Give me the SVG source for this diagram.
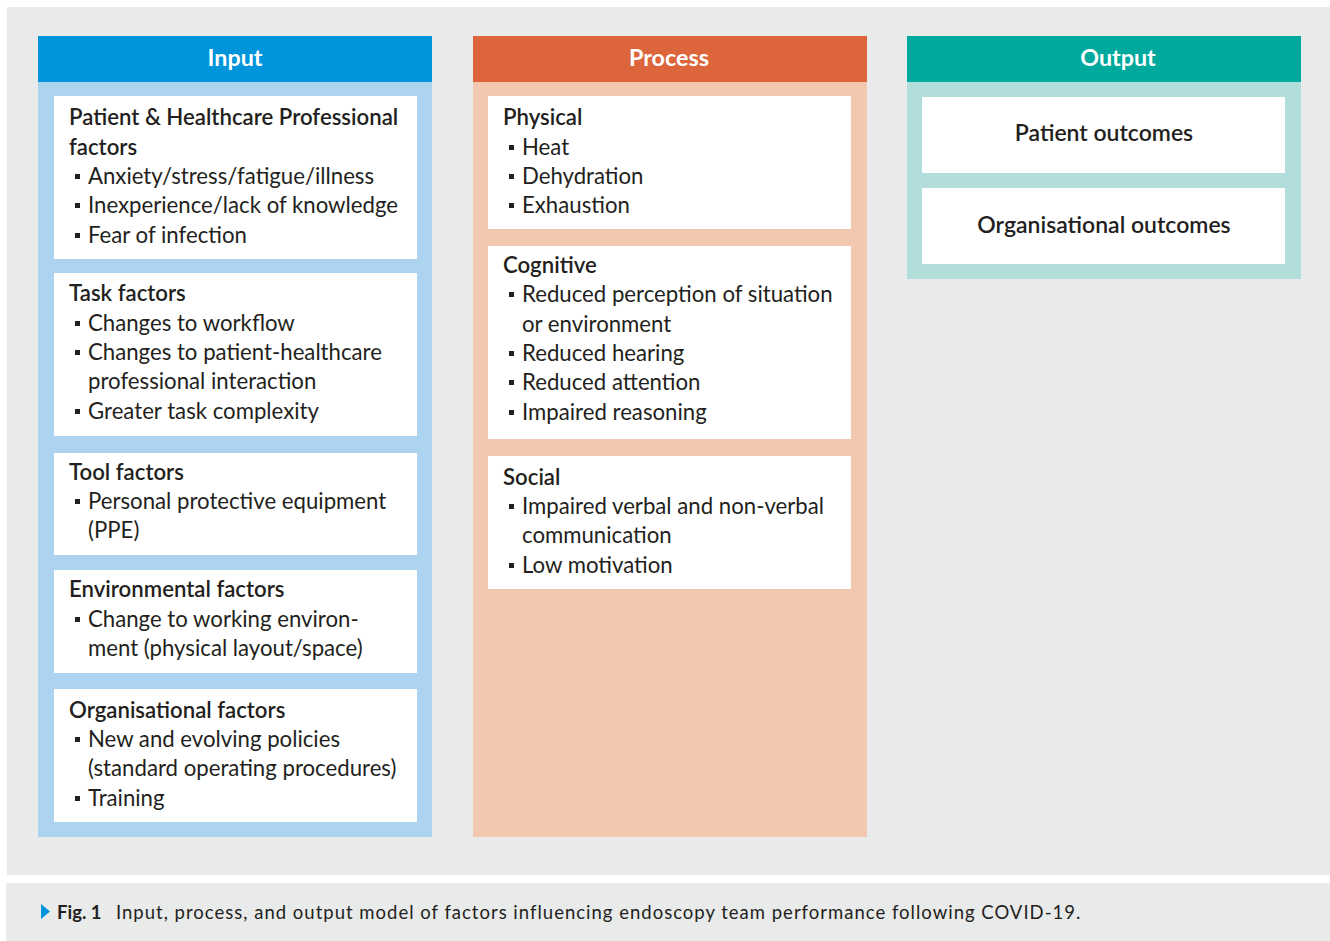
<svg xmlns="http://www.w3.org/2000/svg" width="1330" height="941" viewBox="0 0 1330 941">
<defs>
<style>
text{font-family:Lato,"Noto Sans","Liberation Sans",sans-serif;fill:#231f20;font-size:22.2px}
.hd{font-weight:700;fill:#ffffff;font-size:23.3px;text-anchor:middle}
.h{font-weight:600}
.c{text-anchor:middle;font-weight:600;font-size:23px}
.box{fill:#ffffff}
.cap{font-size:18.5px;letter-spacing:1px}
</style>
<g id="bul"><rect x="-6" y="-10" width="5" height="5" fill="#231f20"/></g>
</defs>
<rect x="0" y="0" width="1330" height="941" fill="#ffffff"/>
<rect x="7" y="7" width="1323" height="868" fill="#e9eaea"/>
<rect x="6" y="883" width="1324" height="58" fill="#e9eaea"/>

<g id="input">
<rect x="38" y="36" width="394" height="801" fill="#acd3ef"/>
<rect x="38" y="36" width="394" height="46" fill="#0095da"/>
<text class="hd" x="235" y="66">Input</text>
</g>
<g id="input-patient">
<rect class="box" x="54" y="96" width="363" height="163"/>
<text class="h" x="69" y="125">Patient &amp; Healthcare Professional</text>
<text class="h" x="69" y="155">factors</text>
<use href="#bul" x="81" y="184"/><text x="88" y="184">Anxiety/stress/fatigue/illness</text>
<use href="#bul" x="81" y="213"/><text x="88" y="213">Inexperience/lack of knowledge</text>
<use href="#bul" x="81" y="243"/><text x="88" y="243">Fear of infection</text>
</g>
<g id="input-task">
<rect class="box" x="54" y="273" width="363" height="163"/>
<text class="h" x="69" y="301">Task factors</text>
<use href="#bul" x="81" y="331"/><text x="88" y="331">Changes to workflow</text>
<use href="#bul" x="81" y="360"/><text x="88" y="360">Changes to patient-healthcare</text>
<text x="88" y="389">professional interaction</text>
<use href="#bul" x="81" y="419"/><text x="88" y="419">Greater task complexity</text>
</g>
<g id="input-tool">
<rect class="box" x="54" y="453" width="363" height="102"/>
<text class="h" x="69" y="480">Tool factors</text>
<use href="#bul" x="81" y="509"/><text x="88" y="509">Personal protective equipment</text>
<text x="88" y="538">(PPE)</text>
</g>
<g id="input-env">
<rect class="box" x="54" y="570" width="363" height="103"/>
<text class="h" x="69" y="597">Environmental factors</text>
<use href="#bul" x="81" y="627"/><text x="88" y="627">Change to working environ-</text>
<text x="88" y="656">ment (physical layout/space)</text>
</g>
<g id="input-org">
<rect class="box" x="54" y="689" width="363" height="133"/>
<text class="h" x="69" y="718">Organisational factors</text>
<use href="#bul" x="81" y="747"/><text x="88" y="747">New and evolving policies</text>
<text x="88" y="776">(standard operating procedures)</text>
<use href="#bul" x="81" y="806"/><text x="88" y="806">Training</text>
</g>

<g id="process">
<rect x="473" y="36" width="394" height="801" fill="#f2c8b1"/>
<rect x="473" y="36" width="394" height="46" fill="#dd653b"/>
<text class="hd" x="669" y="66">Process</text>
</g>
<g id="process-physical">
<rect class="box" x="488" y="96" width="363" height="133"/>
<text class="h" x="503" y="125">Physical</text>
<use href="#bul" x="515" y="155"/><text x="522" y="155">Heat</text>
<use href="#bul" x="515" y="184"/><text x="522" y="184">Dehydration</text>
<use href="#bul" x="515" y="213"/><text x="522" y="213">Exhaustion</text>
</g>
<g id="process-cognitive">
<rect class="box" x="488" y="246" width="363" height="193"/>
<text class="h" x="503" y="273">Cognitive</text>
<use href="#bul" x="515" y="302"/><text x="522" y="302">Reduced perception of situation</text>
<text x="522" y="332">or environment</text>
<use href="#bul" x="515" y="361"/><text x="522" y="361">Reduced hearing</text>
<use href="#bul" x="515" y="390"/><text x="522" y="390">Reduced attention</text>
<use href="#bul" x="515" y="420"/><text x="522" y="420">Impaired reasoning</text>
</g>
<g id="process-social">
<rect class="box" x="488" y="456" width="363" height="133"/>
<text class="h" x="503" y="485">Social</text>
<use href="#bul" x="515" y="514"/><text x="522" y="514">Impaired verbal and non-verbal</text>
<text x="522" y="543">communication</text>
<use href="#bul" x="515" y="573"/><text x="522" y="573">Low motivation</text>
</g>

<g id="output">
<rect x="907" y="36" width="394" height="243" fill="#b1dedb"/>
<rect x="907" y="36" width="394" height="46" fill="#00a99d"/>
<text class="hd" x="1118" y="66">Output</text>
</g>
<g id="output-patient">
<rect class="box" x="922" y="97" width="363" height="76"/>
<text class="c" x="1104" y="141">Patient outcomes</text>
</g>
<g id="output-org">
<rect class="box" x="922" y="188" width="363" height="76"/>
<text class="c" x="1104" y="233">Organisational outcomes</text>
</g>
<g id="connectors"></g>

<g id="caption">
<polygon points="41,904 50,911.5 41,919" fill="#0095da"/>
<text class="cap" x="57" y="919"><tspan font-weight="700" letter-spacing="0">Fig. 1</tspan><tspan x="116">Input, process, and output model of factors influencing endoscopy team performance following COVID-19.</tspan></text>
</g>
</svg>
